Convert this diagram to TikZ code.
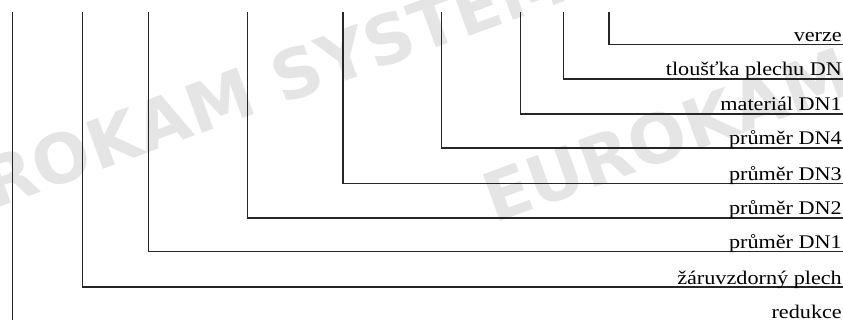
\documentclass[tikz,border=0pt]{standalone}
\usepackage{fontspec}
\setmainfont{Liberation Serif}[FakeStretch=1.15]
\newfontfamily\wmfont{DejaVu Sans}
\begin{document}
\begin{tikzpicture}[x=1pt,y=-1pt,
  lead/.style={draw=black!85, line width=1.1pt},
  lbl/.style={anchor=base east, inner sep=0pt, font=\fontsize{19.3}{19.3}\selectfont},
  wm/.style={anchor=base west, inner sep=0pt, rotate=20, text=black!10, font=\wmfont\bfseries\fontsize{68}{68}\selectfont}]
\useasboundingbox (0,0) rectangle (843,320);
\clip (0,0) rectangle (843,320);
\node[wm] (wm1) at (-102,244) {EUROKAM SYSTEM};
\node[wm] (wm2) at (494,224) {EUROKAM};
\foreach \n/\x/\y/\t in {
  1/609/44.5/verze,
  2/563.3/79/tloušťka plechu DN,
  3/520.7/114/materiál DN1,
  4/441.3/148/průměr DN4,
  5/343/183.5/průměr DN3,
  6/247.7/218/průměr DN2,
  7/148.7/251.5/průměr DN1,
  8/82.7/287/žáruvzdorný plech,
  9/12.3/321.5/redukce}{
  \coordinate (t\n) at (\x,12);
  \coordinate (c\n) at (\x,\y);
  \coordinate (e\n) at (843,\y);
  \draw[lead] (t\n) -- (c\n) -- (e\n);
  \node[lbl] (l\n) at (842,\y-3) {\t};
}
\end{tikzpicture}
\end{document}
